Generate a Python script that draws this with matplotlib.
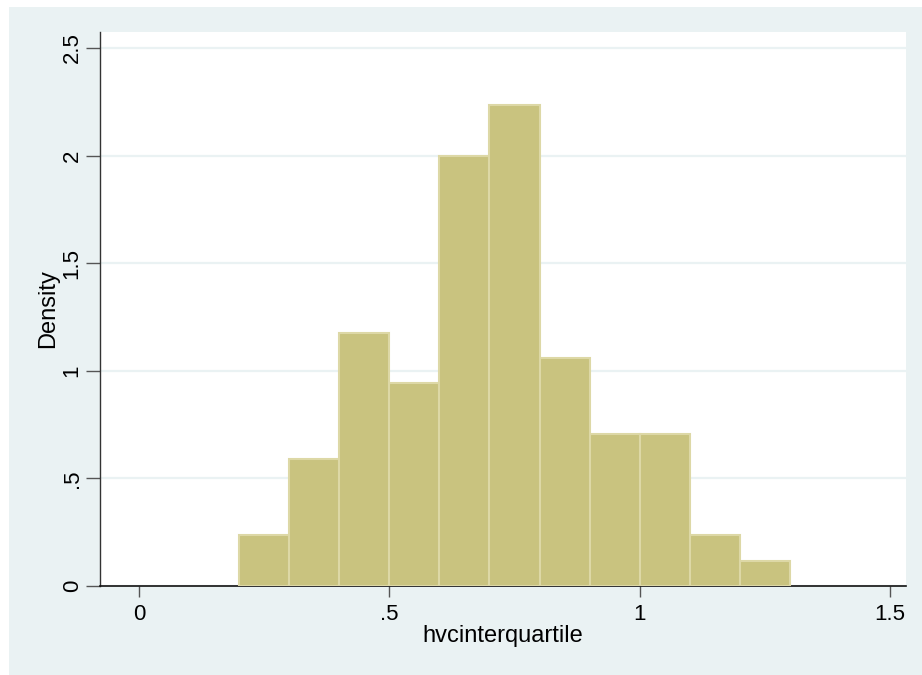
import matplotlib.pyplot as plt
from matplotlib.patches import Rectangle

# data: bin left edges and densities
bin_left = [0.2, 0.3, 0.4, 0.5, 0.6, 0.7, 0.8, 0.9, 1.0, 1.1, 1.2]
density = [0.235, 0.588, 1.176, 0.941, 2.0, 2.235, 1.059, 0.706, 0.706, 0.235, 0.118]
bin_width = 0.1

xticks = [0, 0.5, 1, 1.5]
xtick_labels = ["0", ".5", "1", "1.5"]
yticks = [0, 0.5, 1, 1.5, 2, 2.5]
ytick_labels = ["0", ".5", "1", "1.5", "2", "2.5"]

plt.rcParams['font.family'] = ['Liberation Sans', 'DejaVu Sans']

fig = plt.figure(figsize=(9.22, 6.75), dpi=100, facecolor='white')
W, H = 922, 675
# stata-like outer background
fig.patches.append(Rectangle((9 / W, 0), 1 - 9 / W, 1 - 7 / H, transform=fig.transFigure,
                             facecolor='#EAF2F3', edgecolor='none', zorder=-1))

ax = fig.add_axes([100 / W, 1 - 586 / H, 806 / W, 554 / H])
ax.set_facecolor('white')

ax.bar(bin_left, density, width=bin_width, align='edge',
       color='#C9C37F', edgecolor='#DDD8A6', linewidth=1.5, zorder=3)

ax.set_xlim(-0.078, 1.532)
ax.set_ylim(0, 2.574)

ax.set_yticks(yticks)
ax.set_yticklabels(ytick_labels, rotation=90, va='center', fontsize=16)
ax.set_xticks(xticks)
ax.set_xticklabels(xtick_labels, fontsize=16)
ax.tick_params(axis='y', length=10, width=1, color='#555555', pad=2.5)
ax.tick_params(axis='x', length=8, width=1, color='#555555', pad=5)

ax.grid(axis='y', color='#EAF2F3', linewidth=1.6, zorder=1)
ax.set_axisbelow(True)

for s in ['top', 'right']:
    ax.spines[s].set_visible(False)
ax.spines['left'].set_color('#333333')
ax.spines['bottom'].set_color('#111111')
ax.spines['left'].set_linewidth(1)
ax.spines['bottom'].set_linewidth(1.2)

ax.set_xlabel("hvcinterquartile", fontsize=17, labelpad=0)
ax.set_ylabel("Density", fontsize=17, labelpad=2)

plt.savefig("out.png", dpi=100, facecolor='white')
